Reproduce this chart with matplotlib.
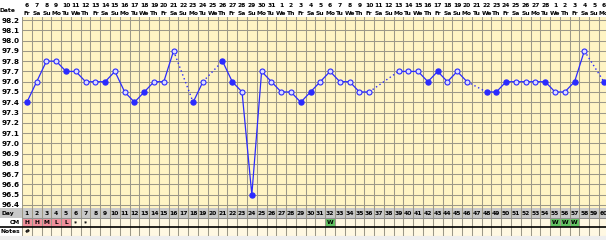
import matplotlib
matplotlib.use("Agg")
import matplotlib.pyplot as plt
from matplotlib.patches import Rectangle

plt.rcParams["font.family"] = ["DejaVu Sans"]
plt.rcParams["font.weight"] = "bold"

# chart data
days = list(range(1, 61))
temps = [97.4, 97.6, 97.8, 97.8, 97.7, 97.7, 97.6, 97.6, 97.6, 97.7,
         97.5, 97.4, 97.5, 97.6, 97.6, 97.9, None, 97.4, 97.6, None,
         97.8, 97.6, 97.5, 96.5, 97.7, 97.6, 97.5, 97.5, 97.4, 97.5,
         97.6, 97.7, 97.6, 97.6, 97.5, 97.5, None, None, 97.7, 97.7,
         97.7, 97.6, 97.7, 97.6, 97.7, 97.6, None, 97.5, 97.5, 97.6,
         97.6, 97.6, 97.6, 97.6, 97.5, 97.5, 97.6, 97.9, None, 97.6]
filled_days = [1, 5, 9, 12, 13, 18, 21, 22, 24, 29, 30, 42, 43, 48, 49, 50, 54, 57, 60]

date_nums = ["6", "7", "8", "9", "10", "11", "12", "13", "14", "15",
             "16", "17", "18", "19", "20", "21", "22", "23", "24", "25",
             "26", "27", "28", "29", "30", "31", "1", "2", "3", "4",
             "5", "6", "7", "8", "9", "10", "11", "12", "13", "14",
             "15", "16", "17", "18", "19", "20", "21", "22", "23", "24",
             "25", "26", "27", "28", "1", "2", "3", "4", "5", "6"]
week_days = ["Fr", "Sa", "Su", "Mo", "Tu", "We", "Th"] * 9

temp_ticks = [98.2, 98.1, 98.0, 97.9, 97.8, 97.7, 97.6, 97.5, 97.4, 97.3,
              97.2, 97.1, 97.0, 96.9, 96.8, 96.7, 96.6, 96.5, 96.4]

cm_days = [1, 2, 3, 4, 5, 6, 7, 32, 55, 56, 57]
cm_labels = ["H", "H", "M", "L", "L", "*", "*", "W", "W", "W", "W"]
note_days = [1]
note_labels = ["#"]

# colours
line_blue = "#2b2bff"
chart_bg = "#fff4c4"
row_bg = "#fff8e2"
grid_col = "#9c9888"
cm_colors = {"H": "#f2909c", "M": "#f2909c", "L": "#f2909c", "W": "#62c262"}

W, H = 606, 240
COL = 9.78
X0 = 0.5
X1 = X0 + 584 / COL
FS = 5.2     # axis labels
FS_S = 4.3   # header / row labels (narrow columns)


def px_box(left, top, width, height):
    """pixel box -> figure fraction"""
    return [left / W, 1 - (top + height) / H, width / W, height / H]


def draw_temps(ax):
    """temperature grid, curve and markers"""
    ax.set_facecolor(chart_bg)
    ax.set_xlim(X0, X1)
    ax.set_ylim(96.4 - 0.03, 98.2 + 0.03)
    for k in range(0, 61):
        ax.axvline(X0 + k, color=grid_col, lw=0.75, zorder=1)
    for t in temp_ticks:
        ax.axhline(t, color=grid_col, lw=0.75, zorder=1)

    # solid runs and dotted bridges over missing days
    prev = None
    run_x, run_y = [], []
    for d, t in zip(days, temps):
        if t is None:
            if run_x:
                ax.plot(run_x, run_y, color=line_blue, lw=0.9, zorder=3)
            run_x, run_y = [], []
            continue
        if prev is not None and d - prev[0] > 1:
            ax.plot([prev[0], d], [prev[1], t], color=line_blue, lw=1.0,
                    ls=(0, (1, 2)), zorder=3)
        run_x.append(d)
        run_y.append(t)
        prev = (d, t)
    if run_x:
        ax.plot(run_x, run_y, color=line_blue, lw=0.9, zorder=3)

    fx = [d for d, t in zip(days, temps) if t is not None and d in filled_days]
    fy = [t for d, t in zip(days, temps) if t is not None and d in filled_days]
    ox = [d for d, t in zip(days, temps) if t is not None and d not in filled_days]
    oy = [t for d, t in zip(days, temps) if t is not None and d not in filled_days]
    ax.plot(ox, oy, ls="none", marker="o", ms=3.6, mfc="#dcdcff", mec=line_blue,
            mew=0.8, zorder=4)
    ax.plot(fx, fy, ls="none", marker="o", ms=3.6, mfc=line_blue, mec=line_blue,
            zorder=5)

    ax.set_yticks(temp_ticks)
    ax.set_yticklabels(["%.1f" % t for t in temp_ticks], fontsize=FS,
                       fontweight="bold")
    ax.set_xticks([])
    ax.tick_params(axis="y", length=0, pad=1.5)
    for s in ax.spines.values():
        s.set_visible(False)

    # date header above the grid
    trans = ax.get_xaxis_transform()
    for d, n, wd in zip(days, date_nums, week_days):
        ax.text(d, 1 + 11.5 / 191, n, transform=trans, ha="center", va="center",
                fontsize=FS_S, clip_on=False)
        ax.text(d, 1 + 3.5 / 191, wd, transform=trans, ha="center", va="center",
                fontsize=FS_S, clip_on=False)
    ax.text(-1.75, 1 + 7 / 191, "Date", transform=trans, ha="left", va="center",
            fontsize=FS_S, clip_on=False)


def draw_rows(ax):
    """Day / CM / Notes rows below the chart"""
    ax.set_xlim(X0, X1)
    ax.set_ylim(28, 0)
    ax.axis("off")
    ax.add_patch(Rectangle((X0 - 2.3, 0), 63.3, 10, color="#c8c8c8", lw=0,
                           clip_on=False))
    ax.add_patch(Rectangle((X0, 10), 61, 18, color=row_bg, lw=0))
    for d, lab in zip(cm_days, cm_labels):
        if lab in cm_colors:
            ax.add_patch(Rectangle((d - 0.5, 10), 1, 9, color=cm_colors[lab], lw=0))
        ax.text(d, 14.8, lab, ha="center", va="center", fontsize=FS_S)
    for d, lab in zip(note_days, note_labels):
        ax.text(d, 23.5, lab, ha="center", va="center", fontsize=FS_S)
    for k in range(0, 61):
        ax.plot([X0 + k, X0 + k], [0, 28], color=grid_col, lw=0.75)
    for d in days:
        ax.text(d, 5.2, str(d), ha="center", va="center", fontsize=FS_S)
    ax.plot([X0, X1], [10, 10], color="#909090", lw=0.75)
    ax.plot([X0 - 2.3, X1], [19, 19], color="black", lw=1.2, clip_on=False)
    ax.plot([X0 - 2.3, X1], [28, 28], color="#b0b0b0", lw=0.75, clip_on=False)
    ax.text(X0 - 2.1, 5.2, "Day", ha="left", va="center", fontsize=FS_S,
            clip_on=False)
    ax.text(X0 - 0.25, 14.8, "CM", ha="right", va="center", fontsize=FS_S,
            clip_on=False)
    ax.text(X0 - 2.2, 23.5, "Notes", ha="left", va="center", fontsize=FS_S,
            clip_on=False)


def create_plot():
    fig = plt.figure(figsize=(W / 100, H / 100), dpi=100, facecolor="white")
    fig.patches.append(Rectangle((0, 0), 1, 4 / H, transform=fig.transFigure,
                                 color="#eeeeee", lw=0))
    ax = fig.add_axes(px_box(22, 17, 584, 191))
    draw_temps(ax)
    ax_rows = fig.add_axes(px_box(22, 208, 584, 28))
    draw_rows(ax_rows)
    fig.savefig("out.png", dpi=100, facecolor="white")


if __name__ == "__main__":
    create_plot()
